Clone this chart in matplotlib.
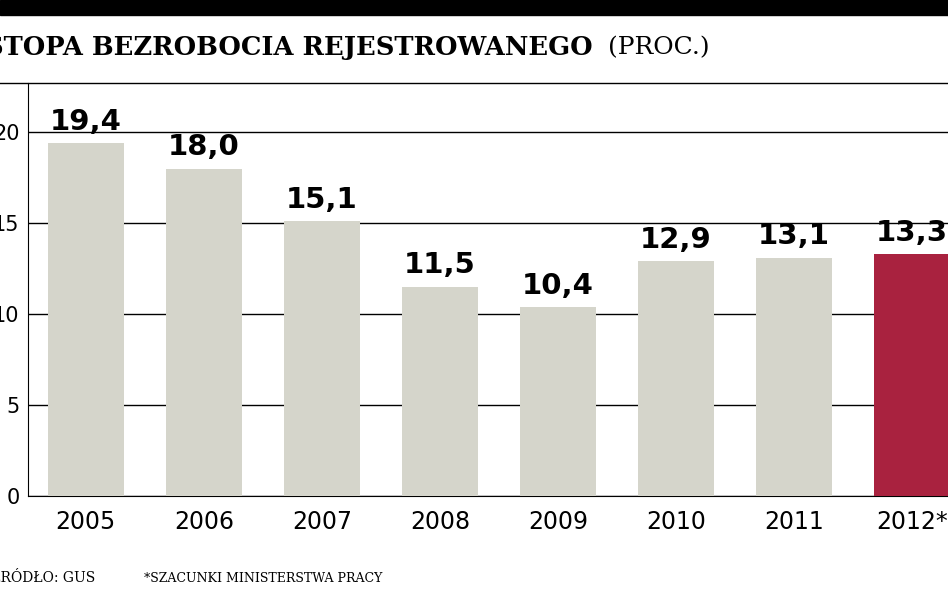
import matplotlib
matplotlib.use("Agg")
import matplotlib.pyplot as plt

years = ["2005", "2006", "2007", "2008", "2009", "2010", "2011", "2012*"]
values = [19.4, 18.0, 15.1, 11.5, 10.4, 12.9, 13.1, 13.3]
labels = ["19,4", "18,0", "15,1", "11,5", "10,4", "12,9", "13,1", "13,3"]
yticks = [0, 5, 10, 15, 20]

W, H = 948, 593
fig = plt.figure(figsize=(W/100, H/100), dpi=100)
cond = ["DejaVu Sans"]

ax = fig.add_axes([28/W, 1-496/H, 1-28/W, (496-83)/H])
colors = ["#d5d5cb"]*7 + ["#a9223f"]
x = list(range(len(years)))
ax.bar(x, values, width=0.64, color=colors, zorder=3)
ax.set_xlim(-0.49, 7.305)
ax.set_ylim(0, 22.7)
ax.set_yticks(yticks)
ax.set_yticklabels([str(t) for t in yticks], fontsize=15, family=cond)
ax.yaxis.grid(True, color="black", lw=1, zorder=1)
ax.set_xticks(x)
ax.set_xticklabels(years, fontsize=17, family=cond)
ax.tick_params(length=0, pad=10)
ax.tick_params(axis="y", pad=6)
for s in ["top", "right"]:
    ax.spines[s].set_visible(False)
for xi, v, l in zip(x, values, labels):
    ax.text(xi, v + 0.4, l, ha="center", va="bottom", fontsize=21,
            fontweight="bold", family=cond)

fig.patches.append(plt.Rectangle((0, 1-15/H), 1, 15/H, transform=fig.transFigure,
                                 color="black"))
fig.lines.append(plt.Line2D([0, 1], [1-83/H, 1-83/H], transform=fig.transFigure,
                            color="black", lw=1))
fig.text(-0.016, 1-48/H, "STOPA BEZROBOCIA REJESTROWANEGO", fontsize=18.5,
         fontweight="bold", family="DejaVu Serif", va="center")
fig.text(0.641, 1-48/H, "(PROC.)", fontsize=18, family="DejaVu Serif", va="center")
fig.text(-0.01, 1-578/H, "ŹRÓDŁO: GUS", fontsize=10, family="DejaVu Serif", va="center")
fig.text(0.152, 1-578/H, "*SZACUNKI MINISTERSTWA PRACY", fontsize=9,
         family="DejaVu Serif", va="center")
fig.savefig("out.png", dpi=100)
